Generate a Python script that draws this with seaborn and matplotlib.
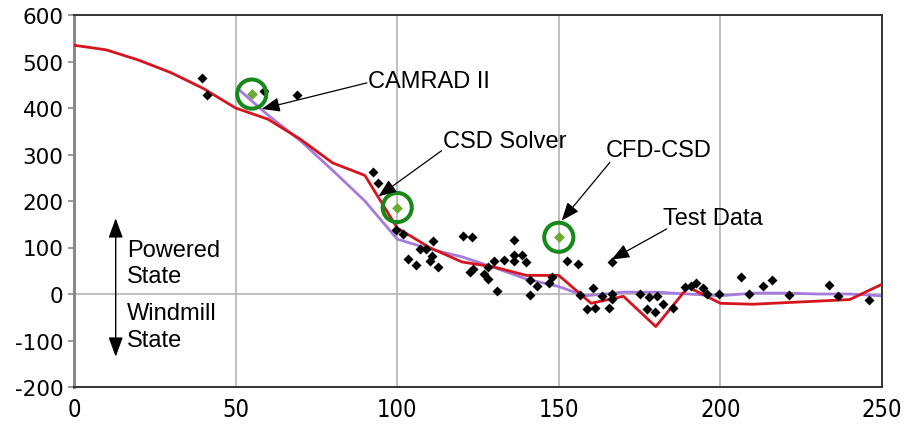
import matplotlib
matplotlib.use("Agg")
import seaborn as sns
from matplotlib import pyplot as plt

# CAMRAD II (red line)
camrad_x = [0, 10, 20, 30, 40, 50, 60, 70, 80, 90, 100, 110, 120, 130, 140, 150,
            160, 170, 180, 190, 200, 210, 240, 250]
camrad_y = [535, 525, 503, 476, 442, 400, 376, 333, 282, 255, 142, 100, 69, 58, 40, 40,
            -20, -5, -70, 15, -20, -22, -12, 21]

# CSD Solver (purple line)
csd_x = [51, 55, 60, 70, 80, 90, 100, 110, 120, 130, 140, 150, 158, 170, 180,
         190, 200, 210, 220, 230, 240, 250]
csd_y = [440, 415, 385, 330, 266, 200, 118, 97, 80, 57, 32, 16, -4, 4, 4,
         0, -4, 2, 2, 0, 0, -4]

# test data (black diamonds)
test_x = [39.5, 41, 58.8, 69, 92.4, 94.2, 99.5, 101.9, 103.4, 105.7, 107, 108.9,
          110.2, 110.7, 111.2, 112.7, 120.5, 123, 122.5, 123.5, 127, 128, 128, 130,
          131, 133, 136, 136, 136, 138.5, 139.8, 141, 141, 143.3, 147, 148,
          152.6, 155.8, 156.6, 158.8, 160.7, 161.2, 163.3, 165.6, 166.4, 166.6, 166.6,
          175, 178, 180.3, 177.4, 179.8, 182.3, 185.4, 189, 190.8, 192.6, 194.7,
          196, 199.6, 206.4, 209, 213.3, 216, 221.2, 233.6, 236.5, 246]
test_y = [464, 429, 437, 428, 262, 239, 138, 129, 75, 62, 97, 97,
          72, 82, 113, 59, 125, 123, 47, 54, 43, 33, 57, 72,
          7, 73, 117, 84, 70, 84, 68, 31, -2, 18, 24, 36,
          70, 65, -2, -32, 13, -31, -4, -31, 68, 0, -11,
          0, -7, -5, -32, -39, -22, -31, 15, 18, 24, 13,
          0, 0, 36, 0, 18, 31, -2, 20, -5, -12]

# highlighted points
mark_x = [55, 100, 150]
mark_y = [430, 186, 122]

labels = ["CAMRAD II", "CSD Solver", "CFD-CSD", "Test Data"]
label_pos = [(91, 458), (114.2, 329), (164.6, 310), (182.2, 163)]
arrow_from = [(90.6, 454), (113.7, 308), (165.8, 283), (183.4, 140)]
arrow_to = [(58.1, 398), (94.2, 210), (150.9, 158), (166.3, 74)]

x_ticks = [0, 50, 100, 150, 200, 250]
y_ticks = [-200, -100, 0, 100, 200, 300, 400, 500, 600]

sns.set_style("white")
plt.rcParams["font.family"] = ["Liberation Sans", "DejaVu Sans"]
plt.rcParams["axes.unicode_minus"] = False
plt.rcParams["text.color"] = "black"

fig = plt.figure(figsize=(9.09, 4.27), dpi=100)
ax = fig.add_axes([74 / 909, 1 - 388 / 427, 808 / 909, 372 / 427])

for xv in x_ticks[1:-1]:
    ax.axvline(xv, color="#b4b4b4", lw=1.2, zorder=0)
ax.axhline(0, color="#b4b4b4", lw=1.2, zorder=0)

sns.lineplot(x=csd_x, y=csd_y, ax=ax, color="#a57cdb", lw=2.0, zorder=2)
sns.lineplot(x=camrad_x, y=camrad_y, ax=ax, color="#d5141e", lw=2.0, zorder=3)
sns.scatterplot(x=test_x, y=test_y, ax=ax, color="black", marker="D", s=26,
                linewidth=0, zorder=4)
sns.scatterplot(x=mark_x, y=mark_y, ax=ax, color="#6aaa2e", marker="D", s=30,
                linewidth=0, zorder=5)
sns.scatterplot(x=mark_x, y=mark_y, ax=ax, marker="o", s=440, facecolor="none",
                edgecolor="#17891b", linewidth=2.9, zorder=6)

for text, pos in zip(labels, label_pos):
    ax.text(pos[0], pos[1], text, fontsize=17, va="center", ha="left",
            color="black", family=["Liberation Sans", "DejaVu Sans"], zorder=7)
for start, end in zip(arrow_from, arrow_to):
    ax.annotate("", xy=end, xytext=start,
                arrowprops=dict(arrowstyle="-|>,head_length=0.55,head_width=0.22",
                                color="black", lw=0.9, mutation_scale=20,
                                shrinkA=0, shrinkB=0), zorder=7)

# powered / windmill state marker
ax.annotate("", xy=(12.9, 163), xytext=(12.9, -135),
            arrowprops=dict(arrowstyle="<|-|>,head_length=0.6,head_width=0.22",
                            color="black", lw=1.0, mutation_scale=20,
                            shrinkA=0, shrinkB=0))
for text, yv in [("Powered", 82), ("State", 26), ("Windmill", -54), ("State", -111)]:
    ax.text(16.5, yv, text, fontsize=17, va="baseline", ha="left", color="black",
            family=["Liberation Sans", "DejaVu Sans"])

ax.set_xlim(0, 250)
ax.set_ylim(-200, 600)
ax.set_xticks(x_ticks)
ax.set_yticks(y_ticks)
ax.set_xticklabels([str(v) for v in x_ticks], family="DejaVu Sans",
                   fontstretch="condensed", fontsize=17)
ax.set_yticklabels([str(v) for v in y_ticks], family="DejaVu Sans", fontsize=15.5)
ax.tick_params(axis="x", length=0, pad=7, labelcolor="black")
ax.tick_params(axis="y", length=4.5, width=1.2, color="#888888", pad=3, left=True,
               labelcolor="black")

for side in ["top", "bottom", "right"]:
    ax.spines[side].set_color("#333333")
    ax.spines[side].set_linewidth(1.4)
ax.spines["left"].set_color("#8a8a8a")
ax.spines["left"].set_linewidth(2.2)
ax.set_xlabel("")
ax.set_ylabel("")

fig.savefig("out.png", dpi=100)
